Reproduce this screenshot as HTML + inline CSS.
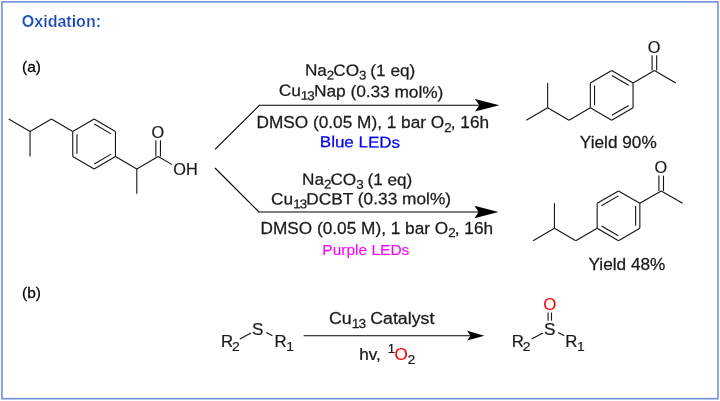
<!DOCTYPE html>
<html><head><meta charset="utf-8"><title>Oxidation</title>
<style>
html,body{margin:0;padding:0;background:#fff;}
body{width:720px;height:401px;overflow:hidden;position:relative;}
svg{position:absolute;left:0;top:0;display:block;font-family:"Liberation Sans",Arial,sans-serif;}
</style></head><body>
<svg width="720" height="401" viewBox="0 0 720 401">
<defs><filter id="f" x="0" y="0" width="720" height="401" filterUnits="userSpaceOnUse" color-interpolation-filters="sRGB"><feColorMatrix type="matrix" values="1 0 0 0 0 0 1 0 0 0 0 0 1 0 0 0 0 0 1 0"/></filter></defs>
<g filter="url(#f)">
<rect x="1.95" y="1.9" width="716.05" height="396.8" fill="none" stroke="#7091da" stroke-width="1.6"/>
<line x1="94.10" y1="119.10" x2="115.45" y2="131.55" stroke="#141414" stroke-width="1.1"/>
<line x1="115.45" y1="131.55" x2="115.45" y2="156.45" stroke="#141414" stroke-width="1.1"/>
<line x1="115.45" y1="156.45" x2="94.10" y2="168.90" stroke="#141414" stroke-width="1.1"/>
<line x1="94.10" y1="168.90" x2="72.75" y2="156.45" stroke="#141414" stroke-width="1.1"/>
<line x1="72.75" y1="156.45" x2="72.75" y2="131.55" stroke="#141414" stroke-width="1.1"/>
<line x1="72.75" y1="131.55" x2="94.10" y2="119.10" stroke="#141414" stroke-width="1.1"/>
<line x1="94.26" y1="124.06" x2="111.12" y2="133.89" stroke="#141414" stroke-width="1.1"/>
<line x1="111.12" y1="154.11" x2="94.26" y2="163.94" stroke="#141414" stroke-width="1.1"/>
<line x1="76.95" y1="153.85" x2="76.95" y2="134.15" stroke="#141414" stroke-width="1.1"/>
<line x1="72.75" y1="131.55" x2="51.40" y2="119.10" stroke="#141414" stroke-width="1.1"/>
<line x1="51.40" y1="119.10" x2="30.05" y2="131.55" stroke="#141414" stroke-width="1.1"/>
<line x1="30.05" y1="131.55" x2="8.70" y2="119.10" stroke="#141414" stroke-width="1.1"/>
<line x1="30.05" y1="131.55" x2="30.05" y2="156.45" stroke="#141414" stroke-width="1.1"/>
<line x1="115.45" y1="156.45" x2="136.80" y2="168.90" stroke="#141414" stroke-width="1.1"/>
<line x1="136.80" y1="168.90" x2="136.80" y2="193.80" stroke="#141414" stroke-width="1.1"/>
<line x1="136.80" y1="168.90" x2="158.15" y2="156.45" stroke="#141414" stroke-width="1.1"/>
<line x1="155.85" y1="156.45" x2="155.85" y2="140.35" stroke="#141414" stroke-width="1.1"/>
<line x1="160.45" y1="156.45" x2="160.45" y2="140.35" stroke="#141414" stroke-width="1.1"/>
<line x1="158.15" y1="156.45" x2="172.16" y2="164.62" stroke="#141414" stroke-width="1.1"/>
<text transform="translate(157.75,137.65) scale(1.0,1)" fill="#1a1a1a" stroke="#1a1a1a" stroke-width="0.2" font-size="16.3" font-weight="normal" text-anchor="middle">O</text>
<text transform="translate(173.30,175.00) scale(1.0,1)" fill="#1a1a1a" stroke="#1a1a1a" stroke-width="0.2" font-size="16.3" font-weight="normal" text-anchor="start">OH</text>
<line x1="611.70" y1="70.50" x2="633.05" y2="82.95" stroke="#141414" stroke-width="1.1"/>
<line x1="633.05" y1="82.95" x2="633.05" y2="107.85" stroke="#141414" stroke-width="1.1"/>
<line x1="633.05" y1="107.85" x2="611.70" y2="120.30" stroke="#141414" stroke-width="1.1"/>
<line x1="611.70" y1="120.30" x2="590.35" y2="107.85" stroke="#141414" stroke-width="1.1"/>
<line x1="590.35" y1="107.85" x2="590.35" y2="82.95" stroke="#141414" stroke-width="1.1"/>
<line x1="590.35" y1="82.95" x2="611.70" y2="70.50" stroke="#141414" stroke-width="1.1"/>
<line x1="611.86" y1="75.46" x2="628.72" y2="85.29" stroke="#141414" stroke-width="1.1"/>
<line x1="628.72" y1="105.51" x2="611.86" y2="115.34" stroke="#141414" stroke-width="1.1"/>
<line x1="594.55" y1="105.25" x2="594.55" y2="85.55" stroke="#141414" stroke-width="1.1"/>
<line x1="590.35" y1="107.85" x2="569.00" y2="120.30" stroke="#141414" stroke-width="1.1"/>
<line x1="569.00" y1="120.30" x2="547.65" y2="107.85" stroke="#141414" stroke-width="1.1"/>
<line x1="547.65" y1="107.85" x2="526.30" y2="120.30" stroke="#141414" stroke-width="1.1"/>
<line x1="547.65" y1="107.85" x2="547.65" y2="82.95" stroke="#141414" stroke-width="1.1"/>
<line x1="633.05" y1="82.95" x2="654.40" y2="70.50" stroke="#141414" stroke-width="1.1"/>
<line x1="654.40" y1="70.50" x2="675.75" y2="82.95" stroke="#141414" stroke-width="1.1"/>
<line x1="652.10" y1="70.50" x2="652.10" y2="55.20" stroke="#141414" stroke-width="1.1"/>
<line x1="656.70" y1="70.50" x2="656.70" y2="55.20" stroke="#141414" stroke-width="1.1"/>
<text transform="translate(654.10,52.50) scale(1.0,1)" fill="#1a1a1a" stroke="#1a1a1a" stroke-width="0.2" font-size="16.3" font-weight="normal" text-anchor="middle">O</text>
<line x1="618.50" y1="190.90" x2="639.85" y2="203.35" stroke="#141414" stroke-width="1.1"/>
<line x1="639.85" y1="203.35" x2="639.85" y2="228.25" stroke="#141414" stroke-width="1.1"/>
<line x1="639.85" y1="228.25" x2="618.50" y2="240.70" stroke="#141414" stroke-width="1.1"/>
<line x1="618.50" y1="240.70" x2="597.15" y2="228.25" stroke="#141414" stroke-width="1.1"/>
<line x1="597.15" y1="228.25" x2="597.15" y2="203.35" stroke="#141414" stroke-width="1.1"/>
<line x1="597.15" y1="203.35" x2="618.50" y2="190.90" stroke="#141414" stroke-width="1.1"/>
<line x1="601.48" y1="205.69" x2="618.34" y2="195.86" stroke="#141414" stroke-width="1.1"/>
<line x1="635.65" y1="205.95" x2="635.65" y2="225.65" stroke="#141414" stroke-width="1.1"/>
<line x1="618.34" y1="235.74" x2="601.48" y2="225.91" stroke="#141414" stroke-width="1.1"/>
<line x1="597.15" y1="228.25" x2="575.80" y2="240.70" stroke="#141414" stroke-width="1.1"/>
<line x1="575.80" y1="240.70" x2="554.45" y2="228.25" stroke="#141414" stroke-width="1.1"/>
<line x1="554.45" y1="228.25" x2="533.10" y2="240.70" stroke="#141414" stroke-width="1.1"/>
<line x1="554.45" y1="228.25" x2="554.45" y2="203.35" stroke="#141414" stroke-width="1.1"/>
<line x1="639.85" y1="203.35" x2="661.20" y2="190.90" stroke="#141414" stroke-width="1.1"/>
<line x1="661.20" y1="190.90" x2="682.55" y2="203.35" stroke="#141414" stroke-width="1.1"/>
<line x1="658.90" y1="190.90" x2="658.90" y2="175.60" stroke="#141414" stroke-width="1.1"/>
<line x1="663.50" y1="190.90" x2="663.50" y2="175.60" stroke="#141414" stroke-width="1.1"/>
<text transform="translate(660.90,172.90) scale(1.0,1)" fill="#1a1a1a" stroke="#1a1a1a" stroke-width="0.2" font-size="16.3" font-weight="normal" text-anchor="middle">O</text>
<text transform="translate(579.80,148.40) scale(1.058,1)" fill="#1a1a1a" stroke="#1a1a1a" stroke-width="0.25" font-size="16.3" font-weight="normal" text-anchor="start">Yield 90%</text>
<text transform="translate(588.50,269.70) scale(1.056,1)" fill="#1a1a1a" stroke="#1a1a1a" stroke-width="0.25" font-size="16.3" font-weight="normal" text-anchor="start">Yield 48%</text>
<line x1="259.20" y1="105.20" x2="484.70" y2="105.20" stroke="#000" stroke-width="1.15"/>
<path d="M499.40,105.20 L474.90,98.90 L479.40,105.20 L474.90,111.50 Z" fill="#000"/>
<line x1="215.00" y1="149.30" x2="259.60" y2="105.20" stroke="#000" stroke-width="1.15"/>
<line x1="258.50" y1="212.00" x2="484.10" y2="212.00" stroke="#000" stroke-width="1.15"/>
<path d="M498.50,212.00 L474.50,205.70 L478.50,212.00 L474.50,218.30 Z" fill="#000"/>
<line x1="215.00" y1="168.00" x2="259.00" y2="212.00" stroke="#000" stroke-width="1.15"/>
<line x1="303.60" y1="335.70" x2="473.98" y2="335.70" stroke="#000" stroke-width="1.15"/>
<path d="M484.30,335.70 L467.10,330.80 L470.60,335.70 L467.10,340.60 Z" fill="#000"/>
<text transform="translate(304.90,75.60) rotate(0.25) scale(1.053,1)" fill="#1a1a1a" stroke="#1a1a1a" stroke-width="0.25" font-size="16.3" font-weight="normal" text-anchor="start">Na<tspan font-size="12.6" dy="3.7" letter-spacing="-0.8">2</tspan><tspan dy="-3.7">CO</tspan><tspan font-size="12.6" dy="3.7" letter-spacing="-0.8">3</tspan><tspan dy="-3.7"> (1 eq)</tspan></text>
<text transform="translate(278.80,95.80) rotate(0.75) scale(1.059,1)" fill="#1a1a1a" stroke="#1a1a1a" stroke-width="0.25" font-size="16.3" font-weight="normal" text-anchor="start">Cu<tspan font-size="12.6" dy="3.7" letter-spacing="-0.8">13</tspan><tspan dy="-3.7">Nap (0.33 mol%)</tspan></text>
<text transform="translate(256.50,127.90) scale(1.058,1)" fill="#1a1a1a" stroke="#1a1a1a" stroke-width="0.25" font-size="16.3" font-weight="normal" text-anchor="start">DMSO (0.05 M), 1 bar O<tspan font-size="12.6" dy="3.7" letter-spacing="-0.8">2</tspan><tspan dy="-3.7">, 16h</tspan></text>
<text transform="translate(319.80,147.00) rotate(0.55) scale(1.09,1)" fill="#0000f5" stroke="#0000f5" stroke-width="0.25" font-size="15.6" font-weight="normal" text-anchor="start">Blue LEDs</text>
<text transform="translate(302.00,184.70) rotate(0.3) scale(1.053,1)" fill="#1a1a1a" stroke="#1a1a1a" stroke-width="0.25" font-size="16.3" font-weight="normal" text-anchor="start">Na<tspan font-size="12.6" dy="3.7" letter-spacing="-0.8">2</tspan><tspan dy="-3.7">CO</tspan><tspan font-size="12.6" dy="3.7" letter-spacing="-0.8">3</tspan><tspan dy="-3.7"> (1 eq)</tspan></text>
<text transform="translate(271.00,204.50) rotate(-0.1) scale(1.062,1)" fill="#1a1a1a" stroke="#1a1a1a" stroke-width="0.25" font-size="16.3" font-weight="normal" text-anchor="start">Cu<tspan font-size="12.6" dy="3.7" letter-spacing="-0.8">13</tspan><tspan dy="-3.7">DCBT (0.33 mol%)</tspan></text>
<text transform="translate(260.50,233.60) scale(1.058,1)" fill="#1a1a1a" stroke="#1a1a1a" stroke-width="0.25" font-size="16.3" font-weight="normal" text-anchor="start">DMSO (0.05 M), 1 bar O<tspan font-size="12.6" dy="3.7" letter-spacing="-0.8">2</tspan><tspan dy="-3.7">, 16h</tspan></text>
<text transform="translate(322.30,255.30) scale(1.035,1)" fill="#ff00ff" stroke="#ff00ff" stroke-width="0.1" font-size="15.0" font-weight="normal" text-anchor="start">Purple LEDs</text>
<text transform="translate(329.00,324.30) scale(1.091,1)" fill="#1a1a1a" stroke="#1a1a1a" stroke-width="0.25" font-size="16.3" font-weight="normal" text-anchor="start">Cu<tspan font-size="12.6" dy="3.7" letter-spacing="-0.8">13</tspan><tspan dy="-3.7"> Catalyst</tspan></text>
<text transform="translate(359.20,359.80) scale(1.053,1)" fill="#1a1a1a" stroke="#1a1a1a" stroke-width="0.25" font-size="16.3" font-weight="normal" text-anchor="start">hv, <tspan font-size="12.5" dy="-6.8" dx="2.0" letter-spacing="-0.5">1</tspan><tspan dy="6.8" fill="#ff0000" stroke="#ff0000" stroke-width="0.1">O</tspan><tspan font-size="12.6" dy="3.7" letter-spacing="-0.8">2</tspan></text>
<text transform="translate(22.00,72.30) scale(1.06,1)" fill="#000" stroke="#000" stroke-width="0.25" font-size="14.6" font-weight="normal" text-anchor="start">(a)</text>
<text transform="translate(22.00,298.10) scale(1.06,1)" fill="#000" stroke="#000" stroke-width="0.25" font-size="14.6" font-weight="normal" text-anchor="start">(b)</text>
<text transform="translate(21.8,27.0) scale(0.955,1)" fill="#1747b5" stroke="#fff" stroke-width="0.25" font-size="16.8" font-weight="bold">Oxidation:</text>
<text transform="translate(257.80,335.20) scale(1.1,1)" fill="#1a1a1a" stroke="#1a1a1a" stroke-width="0.2" font-size="15.6" font-weight="normal" text-anchor="middle">S</text>
<text transform="translate(220.90,346.70) scale(1.05,1)" fill="#1a1a1a" stroke="#1a1a1a" stroke-width="0.2" font-size="16.0" font-weight="normal" text-anchor="start">R<tspan font-size="13.2" dy="4.3" dx="-0.9" letter-spacing="-0.6">2</tspan></text>
<text transform="translate(274.40,346.70) scale(1.05,1)" fill="#1a1a1a" stroke="#1a1a1a" stroke-width="0.2" font-size="16.0" font-weight="normal" text-anchor="start">R<tspan font-size="13.2" dy="4.3" dx="-0.3" letter-spacing="-0.6">1</tspan></text>
<line x1="239.80" y1="339.10" x2="251.10" y2="332.90" stroke="#141414" stroke-width="1.1"/>
<line x1="266.30" y1="332.40" x2="272.40" y2="335.70" stroke="#141414" stroke-width="1.1"/>
<text transform="translate(549.60,335.20) scale(1.1,1)" fill="#1a1a1a" stroke="#1a1a1a" stroke-width="0.2" font-size="15.6" font-weight="normal" text-anchor="middle">S</text>
<text transform="translate(511.70,346.70) scale(1.05,1)" fill="#1a1a1a" stroke="#1a1a1a" stroke-width="0.2" font-size="16.0" font-weight="normal" text-anchor="start">R<tspan font-size="13.2" dy="4.3" dx="-0.9" letter-spacing="-0.6">2</tspan></text>
<text transform="translate(565.20,346.70) scale(1.05,1)" fill="#1a1a1a" stroke="#1a1a1a" stroke-width="0.2" font-size="16.0" font-weight="normal" text-anchor="start">R<tspan font-size="13.2" dy="4.3" dx="-0.3" letter-spacing="-0.6">1</tspan></text>
<line x1="531.60" y1="339.10" x2="542.90" y2="332.90" stroke="#141414" stroke-width="1.1"/>
<line x1="558.10" y1="332.40" x2="564.20" y2="335.70" stroke="#141414" stroke-width="1.1"/>
<text transform="translate(549.90,310.10) scale(1.08,1)" fill="#ff0000" stroke="#ff0000" stroke-width="0.05" font-size="15.6" font-weight="normal" text-anchor="middle">O</text>
<line x1="548.10" y1="312.50" x2="548.10" y2="320.70" stroke="#141414" stroke-width="1.1"/>
<line x1="551.50" y1="312.50" x2="551.50" y2="320.70" stroke="#141414" stroke-width="1.1"/>
</g>
</svg>
</body></html>
